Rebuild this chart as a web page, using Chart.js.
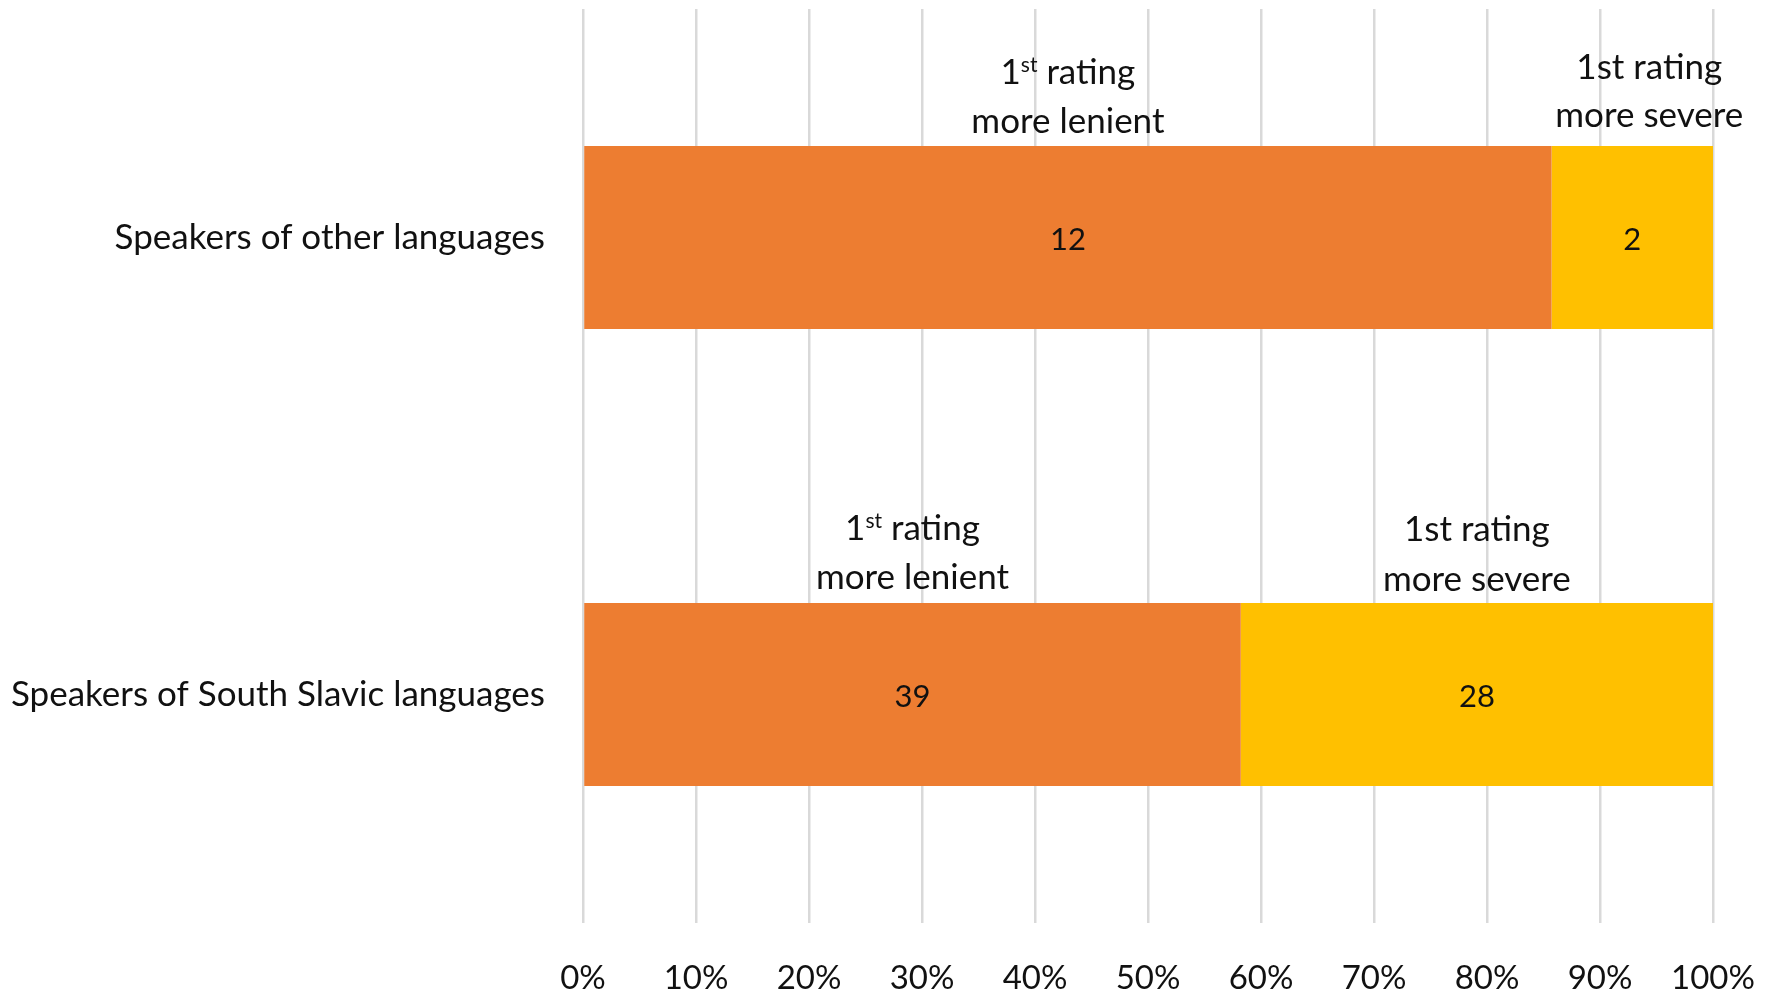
<!DOCTYPE html>
<html>
<head>
<meta charset="utf-8">
<script src="https://cdn.jsdelivr.net/npm/chart.js@4.4.1/dist/chart.umd.min.js"></script>
<style>
  html, body { margin: 0; padding: 0; background: #ffffff; }
  #wrap { width: 1773px; height: 992px; }
</style>
</head>
<body>
<div id="wrap"><canvas id="ratings"></canvas></div>
<script>
const categories = ['Speakers of other languages', 'Speakers of South Slavic languages'];
const seriesNames = ['1st rating more lenient', '1st rating more severe'];
const lenientCounts = [12, 39];
const severeCounts = [2, 28];
const tickValues = [0, 10, 20, 30, 40, 50, 60, 70, 80, 90, 100];

const totals = lenientCounts.map((v, i) => v + severeCounts[i]);
const toPct = (arr) => arr.map((v, i) => v / totals[i] * 100);

const FONT = 'Lato, "Open Sans", sans-serif';
const TEXT_SIZE = 35;
const VALUE_SIZE = 31;
const TICK_SIZE = 33;
const TEXT = '#111111';

// draws the counts inside each segment and the two-line captions above them
const segmentLabels = {
  id: 'segmentLabels',
  afterDatasetsDraw(chart, args, opts) {
    const ctx = chart.ctx;
    ctx.save();
    ctx.fillStyle = TEXT;
    chart.data.datasets.forEach((ds, di) => {
      const meta = chart.getDatasetMeta(di);
      meta.data.forEach((bar, i) => {
        const { x, y, base, height } = bar.getProps(['x', 'y', 'base', 'height'], true);
        const cx = (x + base) / 2;
        ctx.font = VALUE_SIZE + 'px ' + FONT;
        ctx.textAlign = 'center';
        ctx.textBaseline = 'middle';
        ctx.fillText(String(ds.counts[i]), cx, y + 2);

        const cap = opts.captions[di];
        const nudge = cap.nudge[i];
        const top = y - height / 2;
        drawFirstLine(ctx, cap.superscript, cx + nudge.dx, top + nudge.dy[0]);
        ctx.textAlign = 'center';
        ctx.textBaseline = 'alphabetic';
        ctx.font = TEXT_SIZE + 'px ' + FONT;
        ctx.fillText(cap.second, cx + nudge.dx, top + nudge.dy[1]);
      });
    });
    ctx.restore();
  }
};

function drawFirstLine(ctx, superscript, cx, baseline) {
  ctx.textBaseline = 'alphabetic';
  ctx.textAlign = 'left';
  const big = TEXT_SIZE + 'px ' + FONT;
  const small = Math.round(TEXT_SIZE * 0.6) + 'px ' + FONT;
  if (!superscript) {
    ctx.font = big;
    const w = ctx.measureText('1st rating').width;
    ctx.fillText('1st rating', cx - w / 2, baseline);
    return;
  }
  ctx.font = big;
  const w1 = ctx.measureText('1').width;
  const w3 = ctx.measureText(' rating').width;
  ctx.font = small;
  const w2 = ctx.measureText('st').width;
  let x = cx - (w1 + w2 + w3) / 2;
  ctx.font = big;
  ctx.fillText('1', x, baseline);
  x += w1;
  ctx.font = small;
  ctx.fillText('st', x, baseline - TEXT_SIZE * 0.36);
  x += w2;
  ctx.font = big;
  ctx.fillText(' rating', x, baseline);
}

new Chart(document.getElementById('ratings'), {
  type: 'bar',
  data: {
    labels: categories,
    datasets: [
      {
        label: seriesNames[0],
        data: toPct(lenientCounts),
        counts: lenientCounts,
        backgroundColor: '#ED7D31',
        barPercentage: 0.4,
        categoryPercentage: 1.0
      },
      {
        label: seriesNames[1],
        data: toPct(severeCounts),
        counts: severeCounts,
        backgroundColor: '#FFC000',
        barPercentage: 0.4,
        categoryPercentage: 1.0
      }
    ]
  },
  options: {
    indexAxis: 'y',
    responsive: true,
    maintainAspectRatio: false,
    animation: false,
    layout: { padding: { top: 9, right: 60, left: 0, bottom: 0 } },
    plugins: {
      legend: { display: false },
      tooltip: { enabled: false },
      segmentLabels: {
        captions: [
          { superscript: true, second: 'more lenient',
            nudge: [{ dx: 0, dy: [-62, -13] }, { dx: 0, dy: [-63, -14] }] },
          { superscript: false, second: 'more severe',
            nudge: [{ dx: 17, dy: [-67, -19] }, { dx: 0, dy: [-62, -12] }] }
        ]
      }
    },
    scales: {
      x: {
        stacked: true,
        min: 0,
        max: 100,
        afterBuildTicks: (scale) => { scale.ticks = tickValues.map(v => ({ value: v })); },
        afterFit: (scale) => {
          scale.height = 69;
          scale.paddingLeft = 0;
          scale.paddingRight = 0;
        },
        grid: { color: '#d9d9d9', lineWidth: 2.5, drawTicks: false },
        border: { display: false },
        ticks: {
          padding: 36,
          color: TEXT,
          font: { family: FONT, size: TICK_SIZE },
          maxRotation: 0,
          callback: (v) => v + '%'
        }
      },
      y: {
        stacked: true,
        afterFit: (scale) => {
          scale.width = 583;
          scale.paddingTop = 0;
          scale.paddingBottom = 0;
        },
        grid: { display: false, drawTicks: false },
        border: { display: false },
        ticks: {
          padding: 38,
          color: TEXT,
          font: { family: FONT, size: TEXT_SIZE }
        }
      }
    }
  },
  plugins: [segmentLabels]
});
</script>
</body>
</html>
